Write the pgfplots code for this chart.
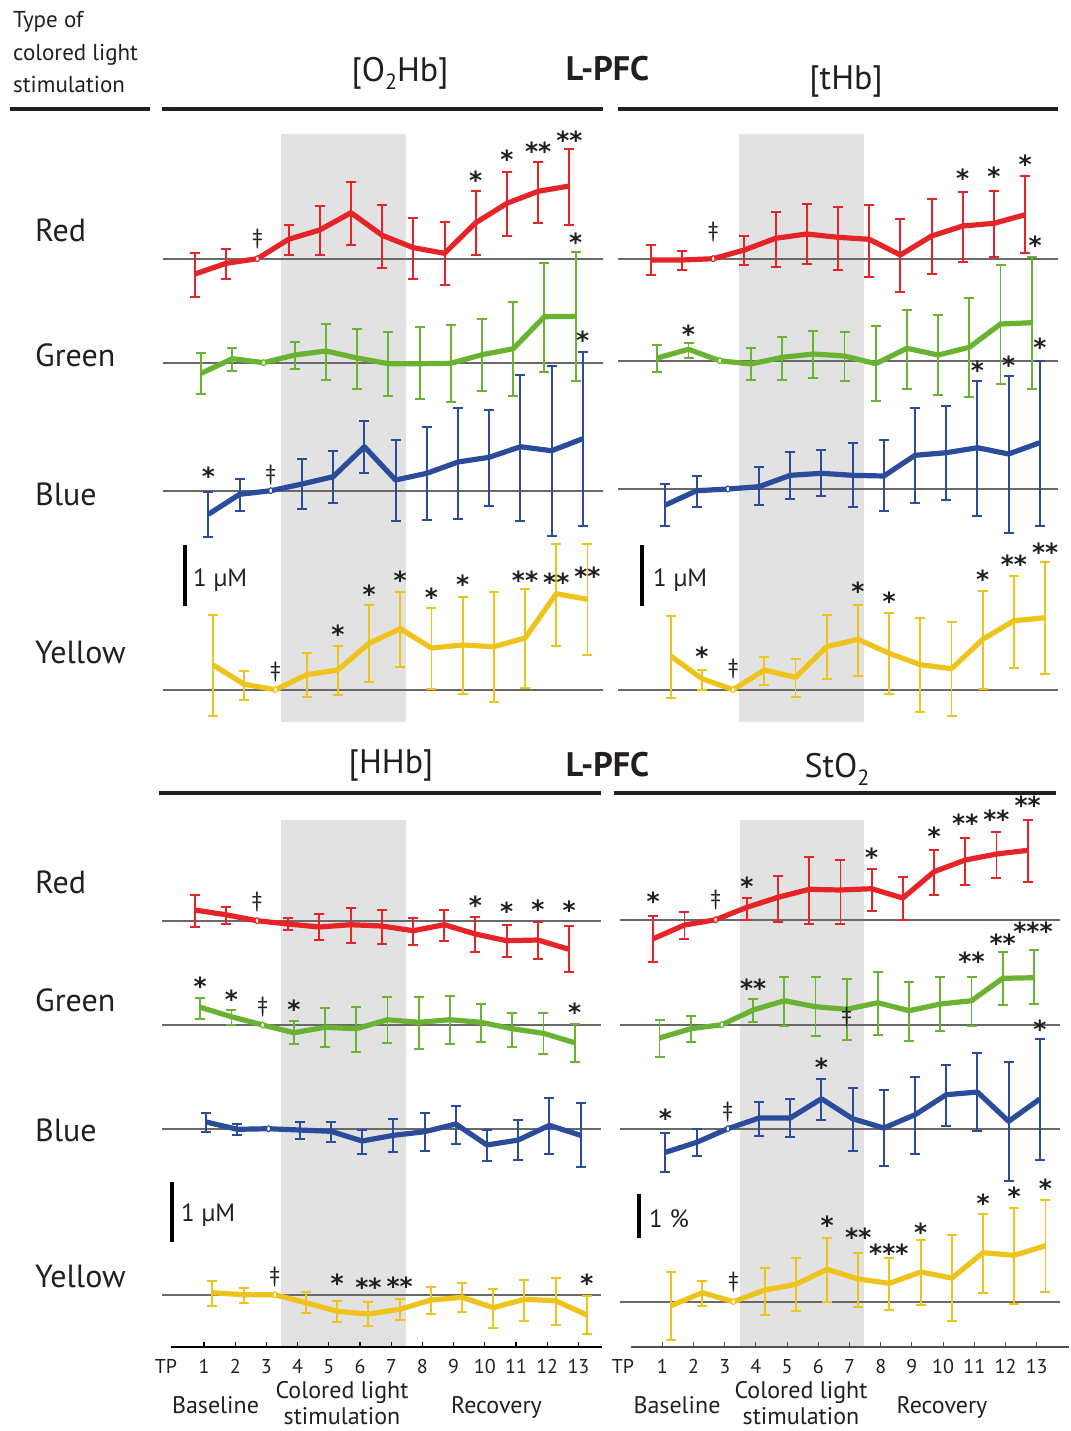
\documentclass[border=0pt]{standalone}
\usepackage{fontspec}
\setmainfont{PT Sans}
\newfontfamily\starfont{DejaVu Sans}
\usepackage{pgfplots}
\usepackage{pgfplotstable}
\pgfplotsset{compat=1.18}

\definecolor{cR}{RGB}{230,36,40}
\definecolor{cG}{RGB}{106,178,50}
\definecolor{cB}{RGB}{43,76,155}
\definecolor{cY}{RGB}{238,196,28}
\definecolor{cBase}{RGB}{105,105,105}
\definecolor{cShade}{RGB}{226,226,226}
\definecolor{cTxt}{RGB}{35,31,32}
\definecolor{cAx}{RGB}{80,80,80}

\newcommand{\fs}[1]{\fontsize{#1}{#1}\selectfont}

% ---------- data: rows of the picture (y = centre, hi = top of bar, lo = bottom of bar)
% [O2Hb]
\pgfplotstableread{
tp y hi lo
1 274 252.7 296.7
2 263.3 248.7 278.7
3 258.7 258.7 258.7
4 239.3 225 255
5 230 206 255
6 212.7 182 245
7 235.3 205 268
8 247.7 218 278.7
9 253.3 222 284.7
10 222.7 190.7 255
11 203.3 172 236
12 191.3 162 222.7
13 186 149 225
}\tlR
\pgfplotstableread{
tp y hi lo
1 373.3 352.7 394
2 358.7 348 371
3 362.7 362.7 362.7
4 355 341.7 368.7
5 351 324 380
6 358 329 388.7
7 363.7 332 396
8 363.7 327 398.7
9 363.3 325 402
10 354.7 319 390.7
11 348.7 302 396
12 316.7 262.7 371.7
13 316.3 252 380.7
}\tlG
\pgfplotstableread{
tp y hi lo
1 514.3 492 536.7
2 494.3 479 510.7
3 490.7 490.7 490.7
4 484 459.3 508.7
5 476.7 451 503
6 446.7 421 472.7
7 480 440.3 520.7
8 473.3 426.7 519.7
9 462 408 518.7
10 457.3 410 506
11 446.7 375 520.7
12 450.7 366 536
13 438.7 351.7 525.7
}\tlB
\pgfplotstableread{
tp y hi lo
1 665 614.7 715.7
2 684.3 670.7 699.7
3 689.7 689.7 689.7
4 674.7 653 696.7
5 670 645.7 694.7
6 643.3 605 682
7 628.7 592 667
8 648 608 689
9 645 597 693.7
10 646.7 592 701.7
11 638 589 687.7
12 593.7 544 645.7
13 599.3 544 655
}\tlY
% [tHb]
\pgfplotstableread{
tp y hi lo
1 260 245 274.7
2 260 251 270
3 258.7 258.7 258.7
4 250 236 264.7
5 238.3 211.7 266.7
6 234 204 264
7 237.3 207.3 270
8 239.3 205 276.7
9 255 219 291.7
10 236 199 274.3
11 226 191.7 261.7
12 223.3 191 256.7
13 214.7 176 253.3
}\trR
\pgfplotstableread{
tp y hi lo
1 358 345.3 371.7
2 349.3 343 357.7
3 360.7 360.7 360.7
4 364 348 379.7
5 357.3 337 379.7
6 354 331 377.7
7 356 332 381
8 363.7 326 401
9 348.3 310 389
10 355 315 395
11 347.3 298 396.7
12 324 265 384
13 322.7 256.7 388.7
}\trG
\pgfplotstableread{
tp y hi lo
1 505 484 526
2 490.7 476 507.3
3 489 489 489
4 486.7 467 505.3
5 475.3 452 499
6 473.3 450 496
7 475.3 443 507.3
8 476 440 511
9 455.3 408 503.3
10 452.7 406 500
11 447.7 381 516.3
12 454 376 533.3
13 442.7 360.7 526.3
}\trB
\pgfplotstableread{
tp y hi lo
1 656 616 697.7
2 678.7 670 690
3 689.7 689.7 689.7
4 670 656.7 685
5 677.3 659 696.7
6 646.7 615 678.7
7 639.3 604.7 676
8 653.3 612.7 694
9 664.7 618 712.3
10 668.7 622.3 715.7
11 639.3 591 689
12 620.7 575.7 667.7
13 617.7 562 674
}\trY
% [HHb]
\pgfplotstableread{
tp y hi lo
1 910 894.7 926.7
2 914.7 907 924
3 920.7 920.7 920.7
4 924 917.7 930.3
5 927 914 940
6 924.7 907.7 943
7 926 910 944
8 930.7 917.7 944.7
9 924.7 910 941
10 934 916.7 952
11 940.7 925.3 956.7
12 940 922.3 959
13 949.3 925.7 971.7
}\blR
\pgfplotstableread{
tp y hi lo
1 1007.3 998 1018.7
2 1016.7 1010 1025
3 1025 1025 1025
4 1032.7 1020.7 1044.3
5 1027.3 1008 1047
6 1028.7 1007 1051.7
7 1019.7 997.3 1042.7
8 1022.3 997.3 1048.7
9 1019.7 996 1044
10 1022.3 1004.3 1042
11 1028.7 1013 1047
12 1033.3 1013 1053.7
13 1042.7 1024 1061.7
}\blG
\pgfplotstableread{
tp y hi lo
1 1122 1112.7 1132
2 1129.3 1123.7 1135
3 1128.7 1128.7 1128.7
4 1130 1121.7 1139
5 1131.3 1121.7 1142.3
6 1141 1130 1154
7 1135.3 1119 1152
8 1131.7 1112.7 1151
9 1124 1105.7 1143.7
10 1145 1130.3 1160.7
11 1140 1120 1160
12 1125.3 1098 1153.7
13 1135.3 1103 1166.7
}\blB
\pgfplotstableread{
tp y hi lo
1 1292.7 1280.7 1306
2 1294.7 1288 1302.7
3 1294.7 1294.7 1294.7
4 1302.7 1292.3 1312.7
5 1311.3 1300.7 1322
6 1314 1302.3 1325.7
7 1309.3 1298.7 1320.3
8 1300 1287 1313.7
9 1297.3 1283.3 1311.7
10 1307.7 1289 1327.7
11 1299.3 1280 1320.7
12 1300.7 1278 1325.3
13 1315 1295.7 1334
}\blY
% StO2
\pgfplotstableread{
tp y hi lo
1 938.7 916 962
2 925 912.3 939
3 919.7 919.7 919.7
4 907.3 897.7 920
5 897.3 876 922
6 889.3 856.7 924
7 890 860 924
8 888.7 869 911
9 898 877 920
10 871.7 850 895
11 860 838 884.7
12 854 832 878.3
13 850.3 820 882
}\brR
\pgfplotstableread{
tp y hi lo
1 1038 1020 1056.7
2 1028.7 1016 1042
3 1024.7 1024.7 1024.7
4 1010 999 1022
5 1000.7 977 1026
6 1006.7 977.3 1036
7 1009.3 979 1040
8 1002.7 972.3 1035
9 1010.7 982.3 1040.7
10 1004 977.3 1030.7
11 1000.7 977 1026
12 978.3 952 1005
13 977.7 950.3 1003.7
}\brG
\pgfplotstableread{
tp y hi lo
1 1152.3 1132.7 1171.7
2 1142.3 1129 1156
3 1128.7 1128.7 1128.7
4 1118 1102 1136
5 1118 1099 1136.7
6 1098.7 1079 1120
7 1118.7 1088 1150.7
8 1128 1090 1166
9 1114.7 1076.7 1154.3
10 1094.7 1065 1126.3
11 1092 1053.3 1130.7
12 1121.3 1062 1181
13 1099 1039 1160
}\brB
\pgfplotstableread{
tp y hi lo
1 1305.7 1271.7 1340
2 1292.7 1280.7 1306
3 1301.7 1301.7 1301.7
4 1290 1268 1315
5 1284.3 1258 1311
6 1269.3 1238 1302
7 1279 1253.3 1307
8 1283.3 1258 1309.7
9 1272 1240 1305
10 1278 1234.7 1320.7
11 1252.7 1214 1292.7
12 1255.3 1207.7 1304.3
13 1245.7 1200 1291.7
}\brY

% ---------- one series: error bars, thick line, open marker at TP3
\newcommand{\series}[3]{%
  \addplot[draw=none, mark=none, forget plot, skip coords between index={2}{3},
    error bars/.cd, y dir=both, y explicit,
    error bar style={draw=#2, line width=1.9pt},
    error mark options={draw=#2, rotate=90, mark size=5pt, line width=1.9pt}]
    table[x expr=\thisrow{tp}+(#3), y=y,
          y error plus expr=\thisrow{lo}-\thisrow{y},
          y error minus expr=\thisrow{y}-\thisrow{hi}] {#1};
  \addplot[draw=#2, line width=5.2pt, line join=round, mark=none, forget plot]
    table[x expr=\thisrow{tp}+(#3), y=y] {#1};
  \addplot[only marks, mark=*, mark size=3pt, forget plot,
    skip coords between index={0}{2}, skip coords between index={3}{13},
    mark options={draw=#2, fill=white, line width=1.1pt, xscale=0.65}]
    table[x expr=\thisrow{tp}+(#3), y=y] {#1};
}
\newcommand{\st}[3]{\node[font=\starfont\bfseries\fs{25}, text=cTxt, inner sep=0pt] at (axis cs:#1,#2) {#3};}
\newcommand{\dg}[2]{\node[font=\fs{22}, text=cTxt, inner sep=0pt] at (axis cs:#1,#2) {‡};}

\pgfplotsset{panel/.style={scale only axis, axis lines=none, width=468pt,
  xmin=-1, xmax=14, y dir=reverse, clip=false, anchor=north west}}

\begin{document}
\begin{tikzpicture}
\path[use as bounding box] (0,0) rectangle (1070pt,-1431pt);

% ================= [O2Hb]
\begin{axis}[panel, height=620pt, ymin=120, ymax=740, at={(141.6pt,-120pt)}]
\addplot[fill=cShade, draw=none, forget plot] coordinates {(3.47,134) (7.47,134) (7.47,722) (3.47,722)};
\addplot[cBase, line width=2pt, forget plot] coordinates {(-0.32,258.7) (13.78,258.7)};
\addplot[cBase, line width=2pt, forget plot] coordinates {(-0.32,362.7) (13.78,362.7)};
\addplot[cBase, line width=2pt, forget plot] coordinates {(-0.32,490.7) (13.78,490.7)};
\addplot[cBase, line width=2pt, forget plot] coordinates {(-0.32,689.7) (13.78,689.7)};
\series{\tlR}{cR}{-0.29}
\series{\tlG}{cG}{-0.09}
\series{\tlB}{cB}{0.14}
\series{\tlY}{cY}{0.29}
\st{9.71}{180}{*} \st{10.71}{159.3}{*} \st{11.71}{151.7}{**} \st{12.71}{140}{**} \dg{2.71}{238.7}
\st{12.91}{242.7}{*}
\st{1.14}{476}{*} \dg{3.14}{475} \st{13.14}{340}{*}
\st{5.29}{634.3}{*} \st{6.29}{594.3}{*} \st{7.29}{580}{*} \st{8.29}{597.3}{*} \st{9.29}{584.3}{*}
\st{11.29}{580}{**} \st{12.29}{582.7}{**} \st{13.29}{576}{**} \dg{3.29}{671.7}
\end{axis}

% ================= [tHb]
\begin{axis}[panel, height=620pt, ymin=120, ymax=740, at={(599.9pt,-120pt)}]
\addplot[fill=cShade, draw=none, forget plot] coordinates {(3.46,134) (7.46,134) (7.46,722) (3.46,722)};
\addplot[cBase, line width=2pt, forget plot] coordinates {(-0.42,258.7) (13.67,258.7)};
\addplot[cBase, line width=2pt, forget plot] coordinates {(-0.42,360.7) (13.67,360.7)};
\addplot[cBase, line width=2pt, forget plot] coordinates {(-0.42,489) (13.67,489)};
\addplot[cBase, line width=2pt, forget plot] coordinates {(-0.42,689.7) (13.67,689.7)};
\series{\trR}{cR}{-0.37}
\series{\trG}{cG}{-0.16}
\series{\trB}{cB}{0.1}
\series{\trY}{cY}{0.27}
\st{10.63}{178.3}{*} \st{11.63}{176.7}{*} \st{12.63}{164.3}{*} \dg{2.63}{232.3}
\st{1.84}{334.3}{*} \st{12.95}{245}{*}
\st{11.1}{370}{*} \st{12.1}{365}{*} \st{13.1}{347.7}{*}
\st{2.27}{656}{*} \st{7.27}{591}{*} \st{8.27}{601}{*} \st{11.27}{579.3}{*}
\st{12.27}{564.3}{**} \st{13.27}{552.7}{**} \dg{3.27}{669.3}
\end{axis}

% ================= [HHb]
\begin{axis}[panel, height=651pt, ymin=780, ymax=1431, at={(141.6pt,-780pt)}]
\addplot[fill=cShade, draw=none, forget plot] coordinates {(3.47,820) (7.47,820) (7.47,1346.7) (3.47,1346.7)};
\addplot[cBase, line width=2pt, forget plot] coordinates {(-0.35,920.7) (13.74,920.7)};
\addplot[cBase, line width=2pt, forget plot] coordinates {(-0.35,1025) (13.74,1025)};
\addplot[cBase, line width=2pt, forget plot] coordinates {(-0.35,1128.7) (13.74,1128.7)};
\addplot[cBase, line width=2pt, forget plot] coordinates {(-0.35,1294.7) (13.74,1294.7)};
\series{\blR}{cR}{-0.3}
\series{\blG}{cG}{-0.12}
\series{\blB}{cB}{0.07}
\series{\blY}{cY}{0.27}
\st{9.7}{905}{*} \st{10.7}{911.7}{*} \st{11.7}{909.3}{*} \st{12.7}{910.7}{*} \dg{2.7}{901.7}
\st{0.88}{986.7}{*} \st{1.88}{999}{*} \dg{2.88}{1007.3} \st{3.88}{1009.3}{*} \st{12.88}{1012.7}{*}
\dg{3.27}{1277.3} \st{5.27}{1282.7}{*} \st{6.27}{1287.3}{**} \st{7.27}{1286}{**} \st{13.27}{1282.7}{*}
\draw[black, line width=2.3pt] (axis cs:-0.06,1346.7) -- (axis cs:13.75,1346.7);
\pgfplotsinvokeforeach{1,...,13}{
  \draw[black, line width=1.3pt] (axis cs:#1,1346.7) -- (axis cs:#1,1342);
  \node[font=\fs{20}, anchor=base, text=cTxt] at (axis cs:#1,1373) {#1};
}
\end{axis}

% ================= StO2
\begin{axis}[panel, height=651pt, ymin=780, ymax=1431, at={(599.9pt,-780pt)}]
\addplot[fill=cShade, draw=none, forget plot] coordinates {(3.48,820) (7.48,820) (7.48,1346.7) (3.48,1346.7)};
\addplot[cBase, line width=2pt, forget plot] coordinates {(-0.36,919.7) (13.75,919.7)};
\addplot[cBase, line width=2pt, forget plot] coordinates {(-0.36,1024.7) (13.75,1024.7)};
\addplot[cBase, line width=2pt, forget plot] coordinates {(-0.36,1128.7) (13.75,1128.7)};
\addplot[cBase, line width=2pt, forget plot] coordinates {(-0.36,1301.7) (13.75,1301.7)};
\series{\brR}{cR}{-0.29}
\series{\brG}{cG}{-0.09}
\series{\brB}{cB}{0.1}
\series{\brY}{cY}{0.28}
\st{0.71}{901.7}{*} \dg{2.71}{900} \st{3.71}{886.7}{*} \st{7.71}{857.3}{*} \st{9.71}{836.7}{*}
\st{10.71}{823.3}{**} \st{11.71}{819.3}{**} \st{12.71}{805}{**}
\st{3.91}{988.3}{**} \dg{6.91}{1016.7} \st{10.91}{961.7}{**} \st{11.91}{943.3}{**} \st{12.88}{931.7}{***}
\st{1.1}{1118.3}{*} \dg{3.1}{1111.7} \st{6.1}{1067.3}{*} \st{13.1}{1029.3}{*}
\dg{3.28}{1281.7} \st{6.28}{1225}{*} \st{7.28}{1237.3}{**} \st{8.26}{1252.7}{***} \st{9.28}{1231.7}{*}
\st{11.28}{1202.7}{*} \st{12.28}{1196.7}{*} \st{13.28}{1187.7}{*}
\draw[cAx, line width=1.6pt] (axis cs:0,1346.7) -- (axis cs:14.03,1346.7);
\pgfplotsinvokeforeach{1,...,13}{
  \draw[cAx, line width=1.1pt] (axis cs:#1,1346.7) -- (axis cs:#1,1342);
  \node[font=\fs{20}, anchor=base, text=cTxt] at (axis cs:#1,1373) {#1};
}
\end{axis}

% ================= labels, rules and scale bars (pixel units)
\begin{scope}[x=1pt, y=-1pt, text=cTxt]
\node[anchor=base west, font=\fs{23}, inner sep=0pt] at (13,28) {Type of};
\node[anchor=base west, font=\fs{23}, inner sep=0pt] at (13,60.5) {colored light};
\node[anchor=base west, font=\fs{23}, inner sep=0pt] at (13,93) {stimulation};
\fill[cTxt] (10,106.7) rectangle (150,110.7);
\fill[cTxt] (162,106.7) rectangle (603,110.7);
\fill[cTxt] (617.5,106.7) rectangle (1058,110.7);
\fill[cTxt] (159,791) rectangle (601,795);
\fill[cTxt] (614,791) rectangle (1056,795);

\node[anchor=base, font=\fs{34}, inner sep=0pt] at (400,81.7) {[O\raisebox{-8pt}{\fs{22}2}Hb]};
\node[anchor=base, font=\bfseries\fs{34}, inner sep=0pt] at (607.5,81) {L-PFC};
\node[anchor=base, font=\fs{34}, inner sep=0pt] at (846,90) {[tHb]};
\node[anchor=base, font=\fs{34}, inner sep=0pt] at (391,773) {[HHb]};
\node[anchor=base, font=\bfseries\fs{34}, inner sep=0pt] at (607.5,776) {L-PFC};
\node[anchor=base, font=\fs{34}, inner sep=0pt] at (837,777) {StO\raisebox{-8pt}{\fs{22}2}};

\node[anchor=west, font=\fs{32}, inner sep=0pt] at (35,230) {Red};
\node[anchor=west, font=\fs{32}, inner sep=0pt] at (35,355) {Green};
\node[anchor=west, font=\fs{32}, inner sep=0pt] at (35,494) {Blue};
\node[anchor=west, font=\fs{32}, inner sep=0pt] at (35,652) {Yellow};
\node[anchor=west, font=\fs{32}, inner sep=0pt] at (35,882) {Red};
\node[anchor=west, font=\fs{32}, inner sep=0pt] at (35,1000) {Green};
\node[anchor=west, font=\fs{32}, inner sep=0pt] at (35,1130) {Blue};
\node[anchor=west, font=\fs{32}, inner sep=0pt] at (35,1276) {Yellow};

\fill[black] (183,545) rectangle (187,605.7);
\node[anchor=base west, font=\fs{25}, inner sep=0pt] at (193,586) {1 µM};
\fill[black] (639.7,545) rectangle (643.7,605.7);
\node[anchor=base west, font=\fs{25}, inner sep=0pt] at (653,586) {1 µM};
\fill[black] (169.7,1182.3) rectangle (173.7,1242.3);
\node[anchor=base west, font=\fs{25}, inner sep=0pt] at (181,1221) {1 µM};
\fill[black] (637.3,1194.3) rectangle (641.3,1238.3);
\node[anchor=base west, font=\fs{25}, inner sep=0pt] at (649,1227) {1 \%};

\node[anchor=base, font=\fs{20}, inner sep=0pt] at (166,1373) {TP};
\node[anchor=base, font=\fs{20}, inner sep=0pt] at (623,1373) {TP};
\node[anchor=base, font=\fs{24}, inner sep=0pt] at (215.5,1413) {Baseline};
\node[anchor=base, font=\fs{24}, inner sep=0pt] at (342,1398) {Colored light};
\node[anchor=base, font=\fs{24}, inner sep=0pt] at (342,1424) {stimulation};
\node[anchor=base, font=\fs{24}, inner sep=0pt] at (496.5,1413) {Recovery};
\node[anchor=base, font=\fs{24}, inner sep=0pt] at (677,1413) {Baseline};
\node[anchor=base, font=\fs{24}, inner sep=0pt] at (801,1398) {Colored light};
\node[anchor=base, font=\fs{24}, inner sep=0pt] at (801,1424) {stimulation};
\node[anchor=base, font=\fs{24}, inner sep=0pt] at (942,1413) {Recovery};
\end{scope}
\end{tikzpicture}
\end{document}
